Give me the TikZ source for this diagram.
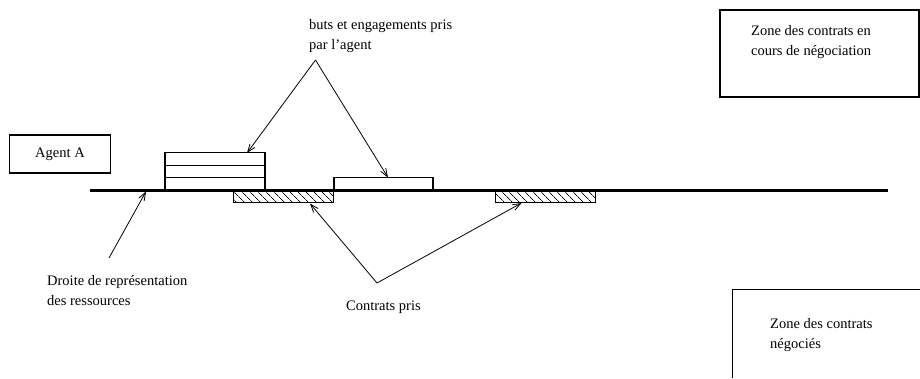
\documentclass[tikz,border=0pt]{standalone}
\usepackage{fontspec}
\setmainfont{Liberation Serif}
\usetikzlibrary{arrows.meta,patterns.meta}
\tikzset{
  texte/.style={inner sep=0pt,anchor=north west,align=left,font=\fontsize{14.5}{20}\selectfont},
  cadre/.style={draw,line width=1.2pt},
  fleche/.style={line width=.8pt,-{Straight Barb[length=8pt,width=6pt]}},
  hachure/.style={draw,line width=1pt,pattern={Lines[angle=-45,distance=5.4pt,line width=.7pt]}}
}
\begin{document}
\begin{tikzpicture}[x=1pt,y=-1pt]
\useasboundingbox (0,0) rectangle (920,378);
% zones
\draw[cadre] (720,10) rectangle (919,97);
\node[texte] (encours) at (751,25) {Zone des contrats en\\cours de n\'egociation};
\draw[cadre] (920,289.5) -- (732.5,289.5) -- (732.5,378);
\node[texte] (negocies) at (770,318) {Zone des contrats\\n\'egoci\'es};
% agent
\node[cadre,minimum width=100.5,minimum height=38,font=\fontsize{14.5}{20}\selectfont] (agent) at (60,154) {Agent A};
% droite des ressources
\draw[line width=3pt] (90,190) -- (888,190);
\begin{scope}[every path/.style={cadre}]
\foreach \i in {0,1,2}
  \draw (165,190-12.4*\i) rectangle (265,177.6-12.4*\i);
\draw (334,190) rectangle (433,177.6);
\end{scope}
\draw[hachure] (233,191) rectangle (333.5,202.5);
\draw[hachure] (495.5,191) rectangle (595.5,202.5);
% legendes
\node[texte] (buts) at (309,19) {buts et engagements pris\\par l'agent};
\node[texte] (droite) at (47,275) {Droite de repr\'esentation\\des ressources};
\node[texte] (contrats) at (346,301) {Contrats pris};
\coordinate (sommetB) at (315.5,60);
\coordinate (sommetC) at (377,283);
\coordinate (pieddroite) at (109,258);
\coordinate (pile) at (247,153);
\coordinate (engag) at (388,177.5);
\coordinate (res) at (146,191.5);
\coordinate (hach1) at (310,203.5);
\coordinate (hach2) at (521.5,203);
\draw[fleche] (sommetB) -- (pile);
\draw[fleche] (sommetB) -- (engag);
\draw[fleche] (sommetC) -- (hach1);
\draw[fleche] (sommetC) -- (hach2);
\draw[fleche] (pieddroite) -- (res);
\end{tikzpicture}
\end{document}
